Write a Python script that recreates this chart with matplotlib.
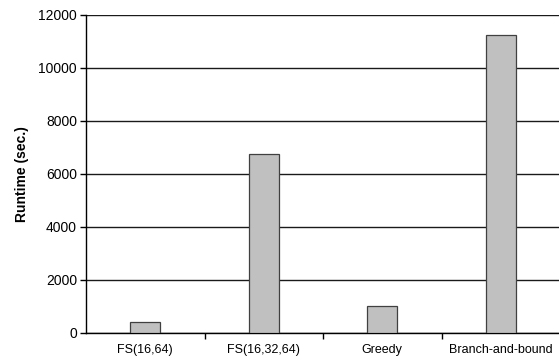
import matplotlib
matplotlib.use("Agg")
import matplotlib.pyplot as plt

categories = ["FS(16,64)", "FS(16,32,64)", "Greedy", "Branch-and-bound"]
runtimes = [390, 6740, 990, 11250]
yticks = [0, 2000, 4000, 6000, 8000, 10000, 12000]

plt.rcParams['font.family'] = ['Liberation Sans', 'DejaVu Sans']

fig = plt.figure(figsize=(5.59, 3.6), dpi=100)
ax = fig.add_axes([86/559, 1 - 332.7/360, (560-86)/559, (332.7-15)/360])

x = list(range(len(categories)))
ax.bar(x, runtimes, width=0.25, color="#c0c0c0", edgecolor="#404040", linewidth=0.9, zorder=3)

ax.set_xlim(-0.5, len(categories) - 0.5)
ax.set_ylim(0, 12000)
ax.set_yticks(yticks)
ax.set_yticklabels([str(v) for v in yticks], fontsize=10)
ax.set_xticks(x)
ax.set_xticklabels(categories, fontsize=9)
ax.set_xticks([i + 0.5 for i in x[:-1]], minor=True)
ax.tick_params(axis='x', which='major', length=0, pad=8)
ax.tick_params(axis='x', which='minor', length=4, width=1, color='black', direction='out')
ax.tick_params(axis='y', length=4.5, width=1, direction='out', pad=2)

ax.grid(axis='y', color='#1a1a1a', linewidth=1, zorder=0)
for s in ['top', 'right']:
    ax.spines[s].set_visible(False)
ax.spines['left'].set_linewidth(1)
ax.spines['bottom'].set_linewidth(1)

ax.set_ylabel("Runtime (sec.)", fontsize=10, fontweight='bold', labelpad=7)

fig.savefig("out.png", dpi=100)
